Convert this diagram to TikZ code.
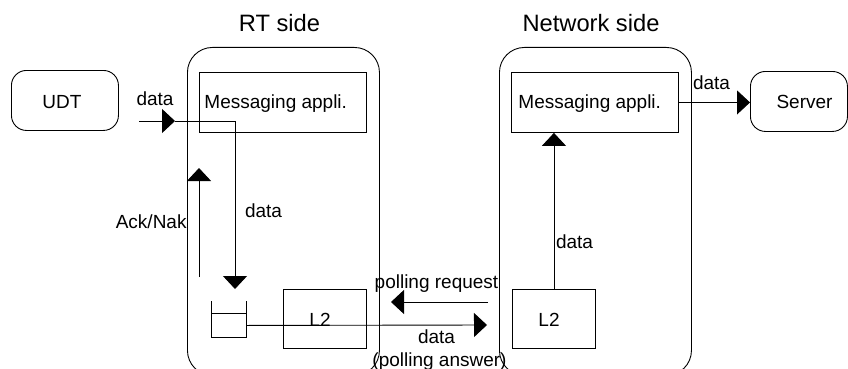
\documentclass[tikz,border=0pt]{standalone}
\usepackage{fontspec}
\setmainfont{Liberation Sans}
\usetikzlibrary{arrows.meta}
\begin{document}
\begin{tikzpicture}[x=1pt,y=-1pt,
  line width=0.9pt,
  every node/.style={inner sep=0pt, font=\fontsize{19}{22}\selectfont},
  titletext/.style={font=\fontsize{23.7}{28}\selectfont, anchor=base},
  lbl/.style={anchor=base},
  sidebox/.style={draw, rounded corners=25pt, anchor=north west,
    minimum width=192pt, minimum height=328pt},
  endbox/.style={draw, rounded corners=15pt, anchor=north west,
    minimum height=60pt},
  plainbox/.style={draw, anchor=north west},
  arr/.style={-{Triangle[length=13pt,width=24pt]}}]
\useasboundingbox (0,0) rectangle (848,369);

% the two sides
\node[sidebox] (rt) at (187,47) {};
\node[sidebox] (nw) at (499,47) {};
\node[titletext] (rtT) at (279.5,32) {RT side};
\node[titletext] (nwT) at (591,32) {Network side};

% end points
\node[endbox, minimum width=107pt] (udt) at (11,70) {};
\node[anchor=base] (udtT) at (62,108) {UDT};
\node[endbox, minimum width=97pt] (srv) at (750,71) {};
\node[anchor=base] (srvT) at (804.5,108) {Server};

% messaging applications
\node[plainbox, minimum width=167pt, minimum height=60pt] (rmsg) at (199,72) {};
\node[anchor=base west] (rmsgT) at (204,108) {Messaging appli.};
\node[plainbox, minimum width=167pt, minimum height=60pt] (nmsg) at (511,72) {};
\node[anchor=base west] (nmsgT) at (518,108) {Messaging appli.};

% layer 2 blocks
\node[plainbox, minimum width=83pt, minimum height=59pt] (rl2) at (283,289) {};
\node[anchor=base] (rl2T) at (320,326) {L2};
\node[plainbox, minimum width=83pt, minimum height=59pt] (nl2) at (512,289) {};
\node[anchor=base] (nl2T) at (549,326) {L2};

% buffer on the RT side
\node[plainbox, minimum width=35pt, minimum height=24pt] (buf) at (211,313) {};
\draw (buf.north west) -- ++(0,-12);
\draw (buf.north east) -- ++(0,-12);

% connector points
\coordinate (a1) at (139,121);
\coordinate (a2) at (175,121);
\coordinate (a3) at (235,121);
\coordinate (a4) at (235,289);
\coordinate (k1) at (199,277);
\coordinate (k2) at (199,168);
\coordinate (p1) at (488,302);
\coordinate (p2) at (391,302);
\coordinate (q2) at (487,325);

% connectors
\draw[arr] (a1) -- (a2);
\draw[arr] (a2) -- (a3) -- (a4);
\draw[arr] (k1) -- (k2);
\draw[arr] (p1) -- (p2);
\draw[arr] (buf.east) -- (q2);
\draw[arr] (nl2.north) -- (nl2.north |- nmsg.south);
\draw[arr] (nmsg.east) -- (nmsg.east -| srv.west);

% labels
\node[lbl] (l1) at (155,105) {data};
\node[lbl] (l2) at (263.5,217) {data};
\node[anchor=base east] (l3) at (187,228) {Ack/Nak};
\node[lbl] (l4) at (436.5,288) {polling request};
\node[lbl] (l5) at (436.5,343) {data};
\node[lbl] (l6) at (439.5,366) {(polling answer)};
\node[lbl] (l7) at (574.5,248) {data};
\node[lbl] (l8) at (711.5,89) {data};
\end{tikzpicture}
\end{document}
